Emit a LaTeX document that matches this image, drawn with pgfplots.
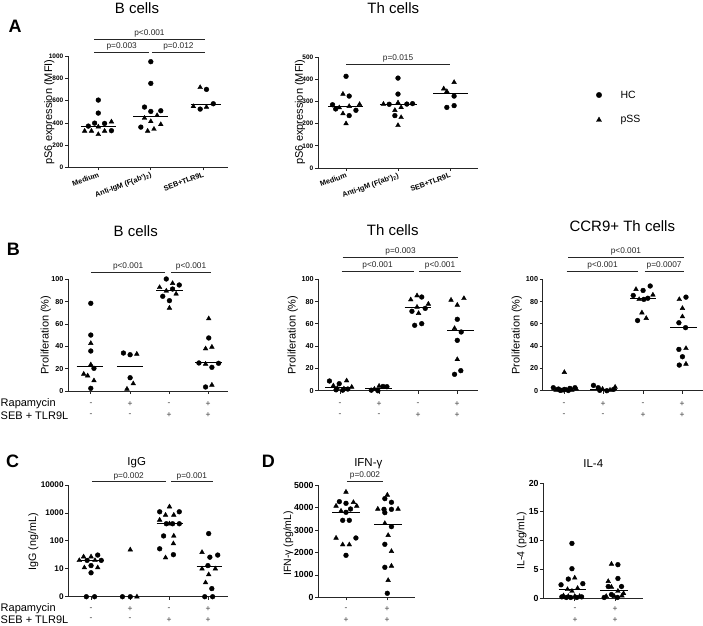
\documentclass[border=0pt]{standalone}
\usepackage{fontspec}
\setmainfont{Liberation Sans}
\usepackage{pgfplots}
\pgfplotsset{compat=1.18}
\newcommand{\fs}[1]{\fontsize{#1}{#1}\selectfont}
\pgfplotsset{
  panel/.style={scale only axis, anchor=south west, axis x line=bottom, axis y line=left,
    axis line style={-, black!85, line width=0.75pt},
    tick style={black!85, line width=0.75pt},
    tick align=outside, major tick length=3pt,
    enlargelimits=false, clip=false,
    xticklabels={},
    /pgf/number format/assume math mode=true, /pgf/number format/1000 sep={},
    scaled y ticks=false,
    yticklabel style={inner sep=1.5pt},
  },
  hc/.style={only marks, mark=*, mark size=2.4pt, black},
  pss/.style={only marks, mark=triangle*, mark size=2.7pt, black},
  med/.style={black, line width=0.9pt},
}
\tikzset{br/.style={black!85, line width=0.75pt}, pv/.style={font=\fs{8.3}, text=black!85, inner sep=1.5pt}}
\begin{document}
\begin{tikzpicture}
\useasboundingbox (0pt,0pt) rectangle (703pt,-625pt);
% ---------------- A: B cells
\begin{axis}[panel, at={(68pt,-167.4pt)}, width=160pt, height=111.3pt, xmin=-0.577, xmax=2.47, ymin=0, ymax=1000,
  ytick={0,200,...,1000}, xtick={0,1,2}, xticklabels={{Medium},{Anti-IgM (F(ab')\textsubscript{2})},{SEB+TLR9L}},
  xticklabel style={rotate=20, anchor=north east, font=\bfseries\fs{7.3}, inner sep=1pt},
  yticklabel style={font=\bfseries\fs{6.5}}]
\addplot[hc] coordinates {(0,605) (0,488) (-0.19,371) (-0.07,398) (0.12,395) (0.25,330)};
\addplot[pss] coordinates {(-0.26,327) (-0.13,327) (0,297) (0.12,327) (0.25,410) (0,365)};
\addplot[med] coordinates {(-0.33,371) (0.33,371)};
\addplot[hc] coordinates {(1,950) (1,755) (0.88,542) (1,503) (1.19,509) (0.81,362)};
\addplot[pss] coordinates {(0.88,443) (1.12,467) (1,413) (0.94,327) (1.06,344) (1.19,386)};
\addplot[med] coordinates {(0.67,458) (1.33,458)};
\addplot[hc] coordinates {(2.06,701) (2.19,572) (1.94,524)};
\addplot[pss] coordinates {(1.94,719) (1.81,548) (2.06,542)};
\addplot[med] coordinates {(1.76,563) (2.33,563)};
\draw[br] (axis cs:-0.08,1033) -- node[above,pv]{p=0.003} (axis cs:0.97,1033);
\draw[br] (axis cs:1.02,1033) -- node[above,pv]{p=0.012} (axis cs:2.03,1033);
\draw[br] (axis cs:-0.08,1153) -- node[above,pv]{p<0.001} (axis cs:2.03,1153);
\end{axis}
% ---------------- A: Th cells
\begin{axis}[panel, at={(318pt,-168pt)}, width=160pt, height=111pt, xmin=-0.54, xmax=2.54, ymin=0, ymax=500,
  ytick={0,100,...,500}, xtick={0,1,2}, xticklabels={{Medium},{Anti-IgM (F(ab')\textsubscript{2})},{SEB+TLR9L}},
  xticklabel style={rotate=20, anchor=north east, font=\bfseries\fs{7.3}, inner sep=1pt},
  yticklabel style={font=\bfseries\fs{6.5}}]
\addplot[hc] coordinates {(0,413) (0.06,324) (-0.26,285) (-0.2,266) (0.19,260) (0.06,236)};
\addplot[pss] coordinates {(-0.06,333) (-0.13,272) (0.06,278) (0.26,287) (-0.06,245) (0,200)};
\addplot[med] coordinates {(-0.34,276) (0.33,276)};
\addplot[hc] coordinates {(1,405) (1,333) (0.83,287) (1.17,288) (1.28,290) (0.94,236)};
\addplot[pss] coordinates {(0.72,288) (1,294) (0.94,260) (1.06,273) (1.06,228) (1,192)};
\addplot[med] coordinates {(0.65,287) (1.36,287)};
\addplot[hc] coordinates {(2.08,324) (1.94,273) (2.08,281)};
\addplot[pss] coordinates {(2.08,386) (1.88,357) (1.94,345)};
\addplot[med] coordinates {(1.68,336) (2.34,336)};
\draw[br] (axis cs:0,467) -- node[above,pv]{p=0.015} (axis cs:2,467);
\end{axis}
% legend
\begin{axis}[scale only axis, hide axis, anchor=south west, at={(594pt,-120pt)}, width=10pt, height=25pt,
  xmin=0, xmax=1, ymin=0, ymax=1, clip=false]
\addplot[hc, mark size=2.7pt] coordinates {(0.5,1)};
\addplot[pss, mark size=2.9pt] coordinates {(0.5,0)};
\end{axis}
\node[anchor=west, font=\fs{10.5}] at (617pt,-95pt) {HC};
\node[anchor=west, font=\fs{10.5}] at (617pt,-120pt) {pSS};
% ---------------- B: B cells
\begin{axis}[panel, at={(68pt,-391pt)}, width=160pt, height=111.7pt, xmin=-0.58, xmax=3.49, ymin=0, ymax=100,
  ytick={0,20,...,100}, xtick={0,1,2,3}, yticklabel style={font=\bfseries\fs{7.2}}]
\addplot[hc] coordinates {(0,78.5) (0,50.1) (0,35.8) (0.08,20.3) (0,2.4)};
\addplot[pss] coordinates {(0,42.7) (0,23.6) (-0.18,15.2) (-0.08,13.7) (0.08,9.3)};
\addplot[med] coordinates {(-0.36,22.1) (0.32,22.1)};
\addplot[hc] coordinates {(0.83,34) (1,32.5) (1,11.9)};
\addplot[pss] coordinates {(1.17,33.1) (1.08,6.6) (0.92,1.8)};
\addplot[med] coordinates {(0.66,22.1) (1.32,22.1)};
\addplot[hc] coordinates {(1.92,100.3) (2.25,94.9) (2.08,91.3) (1.83,84.8) (2,80.9)};
\addplot[pss] coordinates {(2.08,96.4) (1.75,92.8) (1.92,89.6) (2.17,86.9) (2,74.3)};
\addplot[med] coordinates {(1.66,90.1) (2.34,90.1)};
\addplot[hc] coordinates {(3,47.5) (2.75,25.1) (3.08,21.2) (3.25,24.8) (2.92,3.6)};
\addplot[pss] coordinates {(3,64.8) (2.92,37.9) (3.08,39.4) (2.92,24.2) (3.08,5.4)};
\addplot[med] coordinates {(2.66,25.7) (3.33,25.7)};
\draw[br] (axis cs:0,106.5) -- node[above,pv]{p<0.001} (axis cs:1.9,106.5);
\draw[br] (axis cs:2.05,106.5) -- node[above,pv]{p<0.001} (axis cs:3.05,106.5);
\end{axis}
% ---------------- B: Th cells
\begin{axis}[panel, at={(318.3pt,-390.7pt)}, width=159.7pt, height=111.4pt, xmin=-0.555, xmax=3.53, ymin=0, ymax=100,
  ytick={0,20,...,100}, xtick={0,1,2,3}, yticklabel style={font=\bfseries\fs{7.2}}]
\addplot[hc] coordinates {(-0.27,8.7) (-0.02,6.3) (-0.1,0.8) (0.07,0.5) (0.2,1.5)};
\addplot[pss] coordinates {(0.17,9) (-0.17,4.5) (-0.07,2.4) (0.1,1.8) (0.3,3.3)};
\addplot[med] coordinates {(-0.38,3.3) (0.34,3.3)};
\addplot[hc] coordinates {(0.8,0.5) (0.97,0) (1.1,3.8) (1.2,3.6)};
\addplot[pss] coordinates {(0.88,1.5) (1.0,4.2)};
\addplot[med] coordinates {(0.64,2.1) (1.32,2.1)};
\addplot[hc] coordinates {(2.09,84.1) (1.84,71.3) (2.18,73.9) (1.91,58.7) (2.09,60.2)};
\addplot[pss] coordinates {(1.81,81.7) (1.97,85.3) (2.26,77.8) (1.97,75.1) (2.01,69.5)};
\addplot[med] coordinates {(1.65,74.3) (2.32,74.3)};
\addplot[hc] coordinates {(3,64.1) (3.1,52.7) (3,45.2) (3.09,18) (2.93,14.7)};
\addplot[pss] coordinates {(2.84,81.4) (3.17,82.9) (3,76.9) (2.93,56) (3,28.1)};
\addplot[med] coordinates {(2.74,53.9) (3.42,53.9)};
\draw[br] (axis cs:0.04,107.5) -- node[above,pv]{p<0.001} (axis cs:1.88,107.5);
\draw[br] (axis cs:2.03,107.5) -- node[above,pv]{p<0.001} (axis cs:3.09,107.5);
\draw[br] (axis cs:0.07,120) -- node[above,pv]{p=0.003} (axis cs:3.03,120);
\end{axis}
% ---------------- B: CCR9+ Th cells
\begin{axis}[panel, at={(542.7pt,-390.7pt)}, width=159.8pt, height=111.4pt, xmin=-0.55, xmax=3.51, ymin=0, ymax=100,
  ytick={0,20,...,100}, xtick={0,1,2,3}, yticklabel style={font=\bfseries\fs{7.2}}]
\addplot[hc] coordinates {(-0.28,2.7) (-0.15,1.5) (0,1.2) (0.14,2.1) (0.27,2.7) (-0.1,0.3) (0.1,0.2)};
\addplot[pss] coordinates {(0,16.5) (-0.21,0.6) (-0.07,0) (0.06,0.6) (0.19,0.6) (0.3,1.8)};
\addplot[med] coordinates {(-0.32,1.8) (0.31,1.8)};
\addplot[hc] coordinates {(0.74,4.8) (0.86,2.7) (1.08,0) (0.9,0.3) (1.25,1.2)};
\addplot[pss] coordinates {(0.97,1.5) (1.16,0.6) (1.29,3.3)};
\addplot[med] coordinates {(0.66,0.9) (1.34,0.9)};
\addplot[hc] coordinates {(2.18,94) (2.0,90) (1.75,85.5) (2.02,82) (2.12,83) (1.86,63)};
\addplot[pss] coordinates {(1.82,91) (2.25,86) (1.9,82) (1.97,70) (2.08,65)};
\addplot[med] coordinates {(1.67,82.8) (2.33,82.8)};
\addplot[hc] coordinates {(3.09,84) (2.91,61) (3.08,56.6) (2.91,37.1) (3,30.5) (2.92,23)};
\addplot[pss] coordinates {(2.92,82) (3,74) (3,66.5) (3.09,38) (3.09,24)};
\addplot[med] coordinates {(2.69,56.6) (3.36,56.6)};
\draw[br] (axis cs:0.06,107.5) -- node[above,pv]{p<0.001} (axis cs:1.88,107.5);
\draw[br] (axis cs:2.04,107.5) -- node[above,pv]{p=0.0007} (axis cs:3.03,107.5);
\draw[br] (axis cs:0.1,120) -- node[above,pv]{p<0.001} (axis cs:3.03,120);
\end{axis}
% ---------------- C: IgG
\begin{axis}[panel, ymode=log, at={(68.3pt,-596.7pt)}, width=160pt, height=111.7pt, xmin=-0.58, xmax=3.5, ymin=1, ymax=10000,
  ytick={1,10,100,1000,10000}, yticklabels={0,10,100,1000,10000}, yminorticks=false,
  xtick={0,1,2,3}, yticklabel style={font=\bfseries\fs{8.2}}]
\addplot[hc] coordinates {(0.17,31) (-0.1,20) (0.26,20) (0,13) (0,7.2) (-0.12,1) (0.09,1)};
\addplot[pss] coordinates {(-0.19,27) (0,27) (-0.3,20) (0.1,20) (-0.17,11) (0.17,11)};
\addplot[med] coordinates {(-0.34,20) (0.34,20)};
\addplot[hc] coordinates {(0.8,1) (1,1)};
\addplot[pss] coordinates {(1,48) (1.17,1)};
\addplot[hc] coordinates {(1.75,1100) (2.25,1100) (1.92,410) (2.08,410) (2.25,410) (1.85,150) (1.75,52) (2.1,32)};
\addplot[pss] coordinates {(2,1670) (1.9,840) (2.11,840) (1.75,560) (2.0,410) (2.11,150) (2.1,80) (1.9,25)};
\addplot[med] coordinates {(1.67,410) (2.35,410)};
\addplot[hc] coordinates {(3,182) (3.03,26) (3.23,31) (2.98,13) (3.08,1.95) (2.9,1) (3.1,1)};
\addplot[pss] coordinates {(2.83,39) (2.83,10) (3.17,10) (3.0,6.2) (2.92,3.2)};
\addplot[med] coordinates {(2.69,12.5) (3.35,12.5)};
\draw[br] (axis cs:0.02,13130) -- node[above,pv]{p=0.002} (axis cs:1.9,13130);
\draw[br] (axis cs:2.04,13130) -- node[above,pv]{p=0.001} (axis cs:3.1,13130);
\end{axis}
% ---------------- D: IFN-gamma
\begin{axis}[panel, at={(318.3pt,-597.3pt)}, width=96.7pt, height=112pt, xmin=-0.67, xmax=1.67, ymin=0, ymax=5000,
  ytick={0,1000,...,5000}, xtick={0,1}, yticklabel style={font=\bfseries\fs{8.8}}]
\addplot[hc] coordinates {(-0.16,4271) (0,4196) (0.11,3943) (0,3794) (-0.08,3437) (0.08,3437) (0.24,2649) (0,1875)};
\addplot[pss] coordinates {(0,4702) (0.18,4241) (-0.24,4077) (0.26,4077) (-0.12,3854) (-0.24,2649) (-0.08,2351) (0.08,2351)};
\addplot[med] coordinates {(-0.33,3809) (0.34,3809)};
\addplot[hc] coordinates {(0.94,4405) (1.1,4241) (0.92,3928) (1.1,3928) (0.94,3780) (1.1,3155) (0.94,2366) (0.94,1339) (1,179)};
\addplot[pss] coordinates {(1,4568) (0.77,3943) (1.26,3943) (0.94,3303) (1.02,2768) (1.1,2053) (1.1,1399) (1.02,759)};
\addplot[med] coordinates {(0.68,3244) (1.35,3244)};
\draw[br] (axis cs:0.02,5192) -- node[above,pv]{p=0.002} (axis cs:0.9,5192);
\end{axis}
% ---------------- D: IL-4
\begin{axis}[panel, at={(543.3pt,-598pt)}, width=100pt, height=115pt, xmin=-0.78, xmax=1.7, ymin=0, ymax=20,
  ytick={0,5,...,20}, xtick={0,1}, yticklabel style={font=\bfseries\fs{8.8}}]
\addplot[hc] coordinates {(-0.07,9.5) (-0.07,5.1) (-0.16,3.3) (-0.34,2.3) (0.2,2.5) (-0.32,0.2) (-0.21,0.1) (-0.1,0.1) (0.05,0.1) (0.17,0.2)};
\addplot[pss] coordinates {(0,3.5) (-0.18,1.5) (-0.07,1.2) (0.07,1.7) (-0.28,0.4) (-0.16,0.3) (0,0.3) (0.12,0.3)};
\addplot[med] coordinates {(-0.4,1.45) (0.28,1.45)};
\addplot[hc] coordinates {(1.07,5.8) (1.07,3.4) (0.83,2.0) (1.16,2.0) (0.73,0.1) (0.91,0.6) (1.06,0.1)};
\addplot[pss] coordinates {(0.91,5.9) (0.83,2.9) (0.91,1.9) (1.07,1.2) (0.78,0.3) (0.98,0.3) (1.17,0.4) (1.21,0.8)};
\addplot[med] coordinates {(0.63,1.3) (1.33,1.3)};
\end{axis}
% ---------------- texts
\tikzset{ttl/.style={font=\fs{15}}, lt/.style={font=\bfseries\fs{18}}, yl/.style={rotate=90, font=\fs{11}},
  sg/.style={font=\fs{8.5}, text=black!75, inner sep=0pt}, rl/.style={anchor=west, font=\fs{11}, inner sep=0pt}}
\node[lt] at (15pt,-26pt) {A};
\node[lt] at (13.3pt,-249.3pt) {B};
\node[lt] at (12.7pt,-461.7pt) {C};
\node[lt] at (268.3pt,-461.7pt) {D};
\node[ttl] at (137pt,-8.5pt) {B cells};
\node[ttl] at (393.3pt,-8.5pt) {Th cells};
\node[ttl] at (135.7pt,-231.3pt) {B cells};
\node[ttl] at (392.7pt,-230pt) {Th cells};
\node[ttl] at (622.3pt,-226pt) {CCR9+ Th cells};
\node[font=\fs{11.5}] at (136.7pt,-462.7pt) {IgG};
\node[font=\fs{11.5}] at (368.3pt,-463.3pt) {IFN-γ};
\node[font=\fs{11.5}] at (593.3pt,-464pt) {IL-4};
\node[yl] at (49.3pt,-112pt) {pS6 expression (MFI)};
\node[yl] at (300pt,-112pt) {pS6 expression (MFI)};
\node[yl] at (45.7pt,-335pt) {Proliferation (\%)};
\node[yl] at (292.7pt,-335pt) {Proliferation (\%)};
\node[yl] at (516.7pt,-335pt) {Proliferation (\%)};
\node[yl, font=\fs{10.7}] at (33.3pt,-541.7pt) {IgG (ng/mL)};
\node[yl, font=\fs{10.5}] at (288.3pt,-543.3pt) {IFN-γ (pg/mL)};
\node[yl, font=\fs{10.5}] at (521.7pt,-540.7pt) {IL-4 (pg/mL)};
\node[rl] at (0.5pt,-404pt) {Rapamycin};
\node[rl] at (0.5pt,-415.5pt) {SEB + TLR9L};
\node[rl] at (0.5pt,-608.8pt) {Rapamycin};
\node[rl] at (0.5pt,-619.6pt) {SEB + TLR9L};
\foreach \x/\s in {91/-,130/+,169/-,208/+,340/-,379/+,418/-,457/+,564/-,603/+,643/-,682/+}
  \node[sg] at (\x pt,-404pt) {\s};
\foreach \x/\s in {91/-,130/-,169/+,208/+,340/-,379/-,418/+,457/+,564/-,603/-,643/+,682/+}
  \node[sg] at (\x pt,-415.5pt) {\s};
\foreach \x/\s in {91/-,130/+,169/-,208/+,346/-,387/+,575/-,615/+}
  \node[sg] at (\x pt,-608.8pt) {\s};
\foreach \x/\s in {91/-,130/-,169/+,208/+,346/+,387/+,575/+,615/+}
  \node[sg] at (\x pt,-619.6pt) {\s};
\end{tikzpicture}
\end{document}
